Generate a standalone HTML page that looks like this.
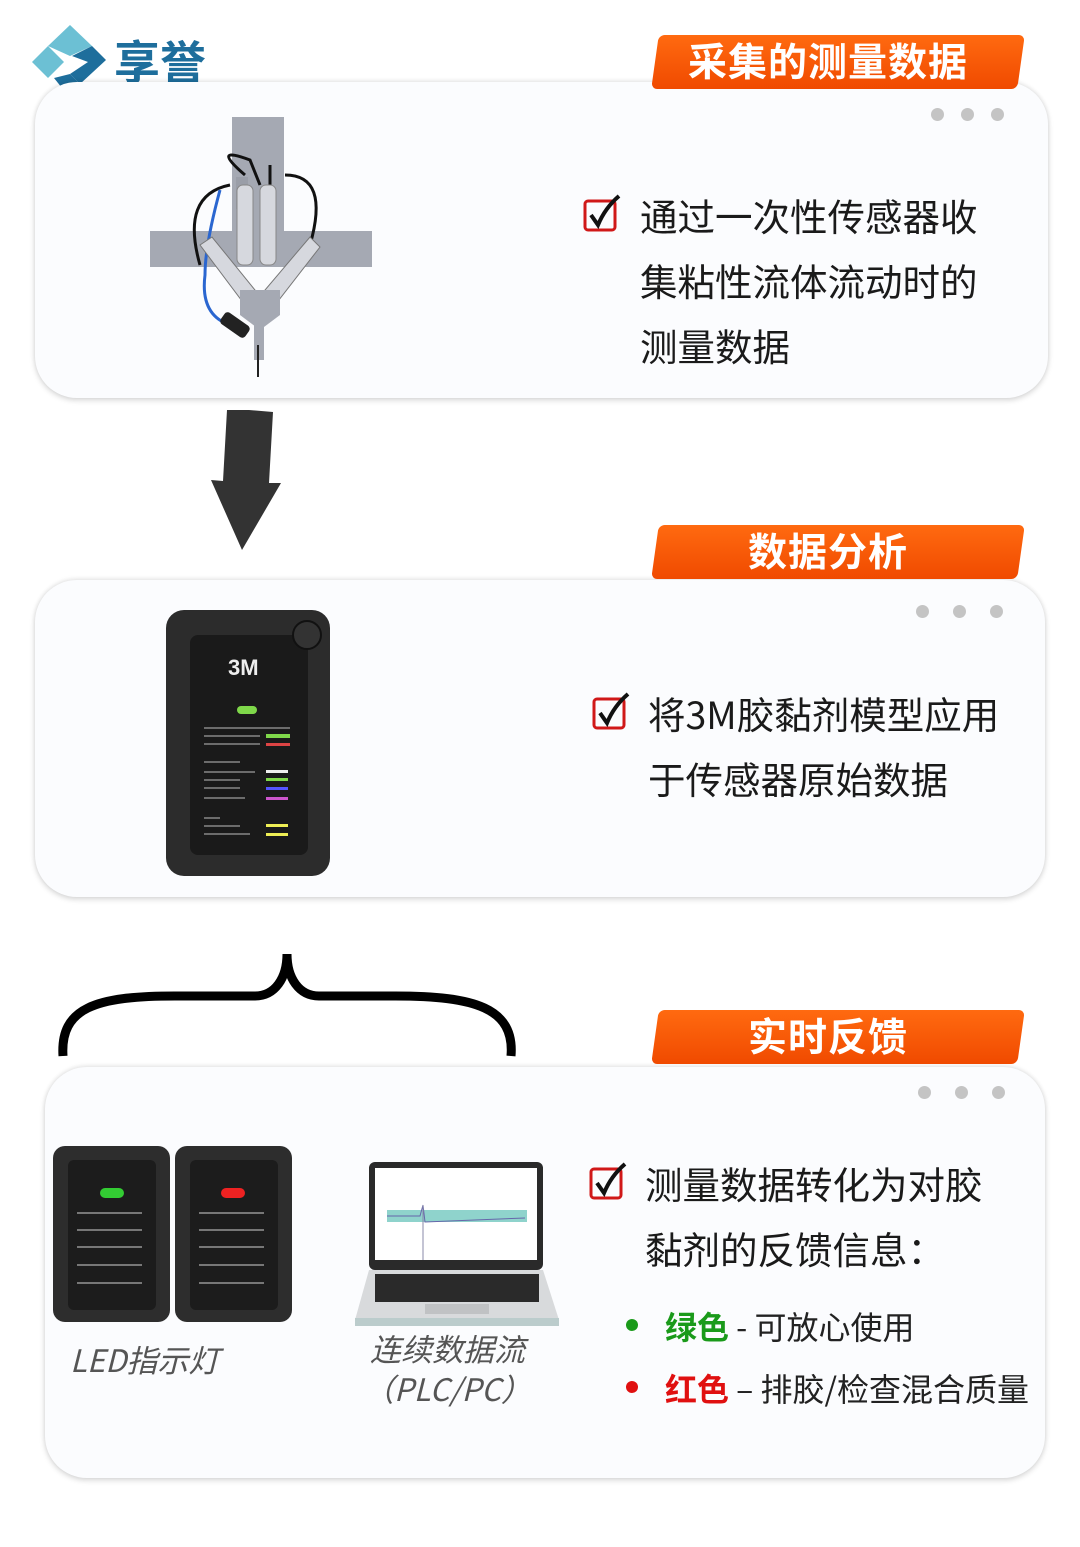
<!DOCTYPE html>
<html><head><meta charset="utf-8"><style>
body{margin:0;width:1080px;height:1547px;background:#fff;position:relative;overflow:hidden;font-family:"Liberation Sans","Noto Sans CJK SC",sans-serif;}
.card{position:absolute;background:#fbfcfe;border-radius:42px;box-shadow:0 2px 6px rgba(0,0,0,.18),0 -2px 4px rgba(0,0,0,.06);}
.tag{position:absolute;left:655px;width:366px;height:54px;background:linear-gradient(#ff6a10,#f04a00);transform:skewX(-8deg);border-radius:6px;}
.tagt{position:absolute;left:644px;width:368px;height:54px;line-height:54px;text-align:center;color:#fff;font-weight:bold;font-size:39px;letter-spacing:1px;font-family:"Noto Sans CJK SC",sans-serif;}
.dots{position:absolute;}
.dots span{display:inline-block;width:13px;height:13px;border-radius:50%;background:#c4c4c4;}
.t{position:absolute;font-size:37.5px;line-height:65px;color:#1a1a1a;font-family:"Noto Sans CJK SC",sans-serif;white-space:nowrap;}
.cb{position:absolute;width:30px;height:30px;border:3px solid #d01818;border-radius:3px;box-sizing:border-box;}
.it{position:absolute;font-style:italic;color:#555;font-size:31px;font-family:"Noto Sans CJK SC",sans-serif;text-align:center;}
</style></head><body>
<!-- logo -->
<svg style="position:absolute;left:30px;top:22px" width="190" height="80">
<polygon points="40,3 62,24 40,34 18,24" fill="#6cc0d4"/>
<polygon points="2,40 18,24 34,40 18,56" fill="#6cc0d4"/>
<polygon points="62,24 76,38 50,62 40,52 58,40 42,34" fill="#1e6e9c"/>
<polygon points="24,56 40,52 50,62 40,76" fill="#1e6e9c"/>
<text x="84" y="57" font-size="46" font-weight="bold" fill="#1e6e9c" font-family="Noto Sans CJK SC">享誉</text>
</svg>

<div class="card" style="left:35px;top:82px;width:1013px;height:316px"></div>
<div class="card" style="left:35px;top:580px;width:1010px;height:317px"></div>
<div class="card" style="left:45px;top:1067px;width:1000px;height:411px"></div>

<div class="tag" style="top:35px"></div><div class="tagt" style="top:33px">采集的测量数据</div>
<div class="tag" style="top:525px"></div><div class="tagt" style="top:523px">数据分析</div>
<div class="tag" style="top:1010px"></div><div class="tagt" style="top:1008px">实时反馈</div>

<div class="dots" style="left:931px;top:108px"><span></span><span style="margin-left:17px"></span><span style="margin-left:17px"></span></div>
<div class="dots" style="left:916px;top:605px"><span></span><span style="margin-left:24px"></span><span style="margin-left:24px"></span></div>
<div class="dots" style="left:918px;top:1086px"><span></span><span style="margin-left:24px"></span><span style="margin-left:24px"></span></div>

<!-- sensor drawing -->
<svg style="position:absolute;left:150px;top:115px" width="225" height="265">
<rect x="82" y="2" width="52" height="150" fill="#a5a9b3"/>
<rect x="0" y="116" width="222" height="36" fill="#a5a9b3"/>
<rect x="86" y="62" width="12" height="32" fill="#9a9ea8"/>
<path d="M80,70 Q30,80 50,150" stroke="#111" stroke-width="3" fill="none"/>
<path d="M135,60 Q180,60 160,130" stroke="#111" stroke-width="3" fill="none"/>
<path d="M95,60 Q60,30 100,45 L110,70" stroke="#111" stroke-width="3" fill="none"/>
<path d="M120,50 L120,70" stroke="#111" stroke-width="3"/>
<path d="M70,75 Q55,130 55,160 Q50,200 80,210" stroke="#2a66d0" stroke-width="3" fill="none"/>
<rect x="87" y="70" width="16" height="80" rx="6" fill="#d6d8de" stroke="#888"/>
<rect x="110" y="70" width="16" height="80" rx="6" fill="#d6d8de" stroke="#888"/>
<polygon points="50,130 62,122 105,175 95,190" fill="#d6d8de" stroke="#777"/>
<polygon points="160,122 170,132 125,190 115,175" fill="#d6d8de" stroke="#777"/>
<polygon points="90,175 130,175 130,200 110,215 90,200" fill="#a5a9b3"/>
<rect x="104" y="200" width="10" height="45" fill="#a5a9b3"/>
<rect x="70" y="203" width="30" height="14" rx="4" fill="#222" transform="rotate(35 85 210)"/>
<path d="M108,230 L108,262" stroke="#222" stroke-width="2"/>
</svg>

<svg style="position:absolute;left:583px;top:193px" width="45" height="40"><rect x="2" y="8" width="30" height="29" rx="3" fill="none" stroke="#d01818" stroke-width="3"/><path d="M8,22 L15,32 Q22,15 36,3" stroke="#111" stroke-width="4" fill="none"/></svg>
<div class="t" style="left:640px;top:182px">通过一次性传感器收<br>集粘性流体流动时的<br>测量数据</div>

<!-- arrow -->
<svg style="position:absolute;left:205px;top:405px" width="80" height="150">
<polygon points="44,5 68,7 64,78 76,78 37,145 6,75 18,76 22,5" fill="#333"/>
</svg>

<!-- 3M device -->
<div style="position:absolute;left:166px;top:610px;width:164px;height:266px;background:#2c2c2c;border-radius:18px"></div>
<div style="position:absolute;left:190px;top:635px;width:118px;height:220px;background:#1a1a1a;border-radius:8px"></div>
<div style="position:absolute;left:292px;top:620px;width:26px;height:26px;border-radius:50%;background:#333;border:2px solid #111"></div>
<div style="position:absolute;left:228px;top:655px;color:#eee;font-weight:bold;font-size:22px;font-family:'Liberation Sans'">3M</div>
<div style="position:absolute;left:237px;top:706px;width:20px;height:8px;border-radius:4px;background:#7fd84a"></div>
<svg style="position:absolute;left:200px;top:722px" width="100" height="120">
<g stroke="#888" stroke-width="1.5">
<line x1="4" y1="6" x2="90" y2="6"/><line x1="4" y1="14" x2="60" y2="14"/><line x1="4" y1="22" x2="60" y2="22"/>
<line x1="4" y1="40" x2="40" y2="40"/><line x1="4" y1="50" x2="55" y2="50"/><line x1="4" y1="58" x2="40" y2="58"/><line x1="4" y1="66" x2="40" y2="66"/><line x1="4" y1="76" x2="45" y2="76"/>
<line x1="4" y1="96" x2="20" y2="96"/><line x1="4" y1="104" x2="40" y2="104"/><line x1="4" y1="112" x2="50" y2="112"/></g>
<rect x="66" y="12" width="24" height="4" fill="#7fd84a"/><rect x="66" y="21" width="24" height="3" fill="#d44"/>
<rect x="66" y="48" width="22" height="3" fill="#eee"/><rect x="66" y="56" width="22" height="3" fill="#7fd84a"/><rect x="66" y="65" width="22" height="3" fill="#55f"/><rect x="66" y="75" width="22" height="3" fill="#c5c"/>
<rect x="66" y="102" width="22" height="3" fill="#ee5"/><rect x="66" y="111" width="22" height="3" fill="#ee5"/>
</svg>

<svg style="position:absolute;left:592px;top:691px" width="45" height="40"><rect x="2" y="8" width="30" height="29" rx="3" fill="none" stroke="#d01818" stroke-width="3"/><path d="M8,22 L15,32 Q22,15 36,3" stroke="#111" stroke-width="4" fill="none"/></svg>
<div class="t" style="left:648px;top:680px">将3M胶黏剂模型应用<br>于传感器原始数据</div>

<!-- brace -->
<svg style="position:absolute;left:55px;top:948px" width="465" height="112">
<path d="M8,108 C5,60 40,48 120,48 L200,48 C220,48 232,30 232,6 C232,30 244,48 264,48 L340,48 C420,48 460,60 456,108" stroke="#000" stroke-width="9" fill="none"/>
</svg>

<!-- LED devices -->
<div style="position:absolute;left:53px;top:1146px;width:117px;height:176px;background:#2d2d2d;border-radius:12px"></div>
<div style="position:absolute;left:175px;top:1146px;width:117px;height:176px;background:#2d2d2d;border-radius:12px"></div>
<div style="position:absolute;left:68px;top:1160px;width:88px;height:150px;background:#1c1c1c;border-radius:6px"></div>
<div style="position:absolute;left:190px;top:1160px;width:88px;height:150px;background:#1c1c1c;border-radius:6px"></div>
<div style="position:absolute;left:100px;top:1188px;width:24px;height:10px;border-radius:5px;background:#3c3"></div>
<div style="position:absolute;left:221px;top:1188px;width:24px;height:10px;border-radius:5px;background:#e22"></div>
<svg style="position:absolute;left:72px;top:1205px" width="210" height="100"><g stroke="#777" stroke-width="2">
<line x1="5" y1="8" x2="70" y2="8"/><line x1="5" y1="25" x2="70" y2="25"/><line x1="5" y1="42" x2="70" y2="42"/><line x1="5" y1="60" x2="70" y2="60"/><line x1="5" y1="78" x2="70" y2="78"/>
<line x1="127" y1="8" x2="192" y2="8"/><line x1="127" y1="25" x2="192" y2="25"/><line x1="127" y1="42" x2="192" y2="42"/><line x1="127" y1="60" x2="192" y2="60"/><line x1="127" y1="78" x2="192" y2="78"/></g></svg>
<div class="it" style="left:70px;top:1336px">LED指示灯</div>

<!-- laptop -->
<svg style="position:absolute;left:355px;top:1160px" width="208" height="170">
<rect x="14" y="2" width="174" height="108" rx="6" fill="#2a2a2a"/>
<rect x="20" y="8" width="162" height="92" fill="#fff"/>
<rect x="32" y="50" width="140" height="12" fill="#8fd3cc"/>
<path d="M32,56 L65,56 L68,45 L70,62 L170,58" stroke="#6666aa" fill="none"/>
<line x1="68" y1="45" x2="68" y2="100" stroke="#88a" />
<polygon points="14,110 188,110 204,160 0,160" fill="#d8dadc"/>
<rect x="20" y="114" width="164" height="28" fill="#2a2a2a"/>
<rect x="70" y="144" width="64" height="10" fill="#c0c2c4"/>
<rect x="0" y="158" width="204" height="8" fill="#bcc" />
</svg>
<div class="it" style="left:355px;top:1328px;width:185px;line-height:40px">连续数据流<br>（PLC/PC）</div>

<svg style="position:absolute;left:589px;top:1161px" width="45" height="40"><rect x="2" y="8" width="30" height="29" rx="3" fill="none" stroke="#d01818" stroke-width="3"/><path d="M8,22 L15,32 Q22,15 36,3" stroke="#111" stroke-width="4" fill="none"/></svg>
<div class="t" style="left:645px;top:1150px">测量数据转化为对胶<br>黏剂的反馈信息：</div>
<div style="position:absolute;left:626px;top:1319px;width:12px;height:12px;border-radius:50%;background:#1a9a1a"></div>
<div style="position:absolute;left:626px;top:1381px;width:12px;height:12px;border-radius:50%;background:#e01010"></div>
<div style="position:absolute;left:665px;top:1303px;font-size:32px;color:#222;font-family:'Noto Sans CJK SC',sans-serif;white-space:nowrap"><b style="color:#1a9a1a">绿色</b> - 可放心使用</div>
<div style="position:absolute;left:665px;top:1365px;font-size:32px;color:#222;font-family:'Noto Sans CJK SC',sans-serif;white-space:nowrap"><b style="color:#e01010">红色</b> – 排胶/检查混合质量</div>
</body></html>
